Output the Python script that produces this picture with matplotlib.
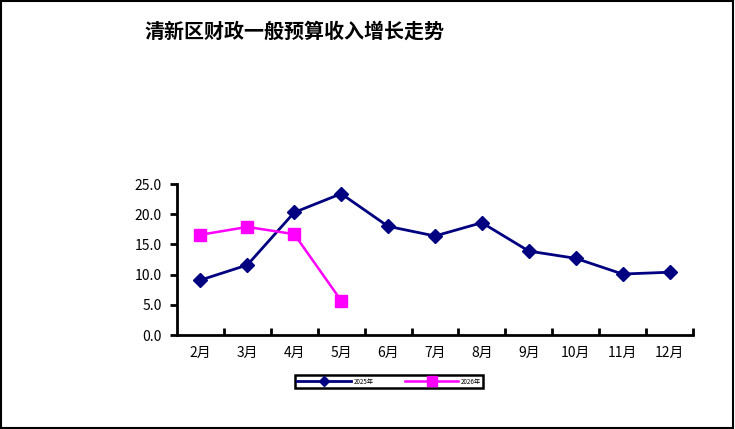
import matplotlib.pyplot as plt
from matplotlib.patches import Rectangle

plt.rcParams['font.family'] = ['Noto Sans CJK SC', 'DejaVu Sans']

months = ['2月', '3月', '4月', '5月', '6月', '7月', '8月', '9月', '10月', '11月', '12月']
growth_2025 = [9.1, 11.6, 20.3, 23.4, 18.0, 16.4, 18.6, 13.9, 12.7, 10.1, 10.4]
growth_2026 = [16.6, 17.9, 16.7, 5.7]
labels = ['2025年', '2026年']

fig = plt.figure(figsize=(7.35, 4.29), dpi=100)
fig.patches.append(Rectangle((0.002, 0.003), 0.995, 0.994, transform=fig.transFigure,
                             fill=False, edgecolor='black', linewidth=1.5))

ax = fig.add_axes([0.2408, 0.219, 0.702, 0.352])
x = list(range(len(months)))
ax.plot(x, growth_2025, color='#000080', marker='D', markersize=7, linewidth=2, label=labels[0])
ax.plot(x[:len(growth_2026)], growth_2026, color='#FF00FF', marker='s', markersize=9,
        linewidth=1.8, label=labels[1])

ax.set_xlim(-0.5, len(months) - 0.5)
ax.set_ylim(0, 25)
ax.set_yticks([0, 5, 10, 15, 20, 25])
ax.set_yticklabels(['0.0', '5.0', '10.0', '15.0', '20.0', '25.0'], fontsize=10)
ax.set_xticks(x)
ax.set_xticklabels(months, fontsize=10)
ax.set_xticks([i + 0.5 for i in x], minor=True)
ax.tick_params(axis='x', which='major', length=0, pad=8)
ax.tick_params(axis='x', which='minor', direction='in', length=5, width=2)
ax.tick_params(axis='y', direction='out', length=5, width=2, pad=6)
for s in ['top', 'right']:
    ax.spines[s].set_visible(False)
for s in ['left', 'bottom']:
    ax.spines[s].set_linewidth(2)

fig.text(0.197, 0.927, '清新区财政一般预算收入增长走势', fontsize=14.4, fontweight='bold',
         ha='left', va='center')

leg = fig.legend(loc='center', bbox_to_anchor=(0.5295, 0.1105), ncol=2, fontsize=4.5,
                 frameon=True, fancybox=False, framealpha=1, handlelength=8.6,
                 columnspacing=5, borderpad=0.35, handletextpad=0.4, markerscale=0.8)
leg.get_frame().set_edgecolor('black')
leg.get_frame().set_linewidth(1.8)

fig.savefig('out.png', dpi=100)
